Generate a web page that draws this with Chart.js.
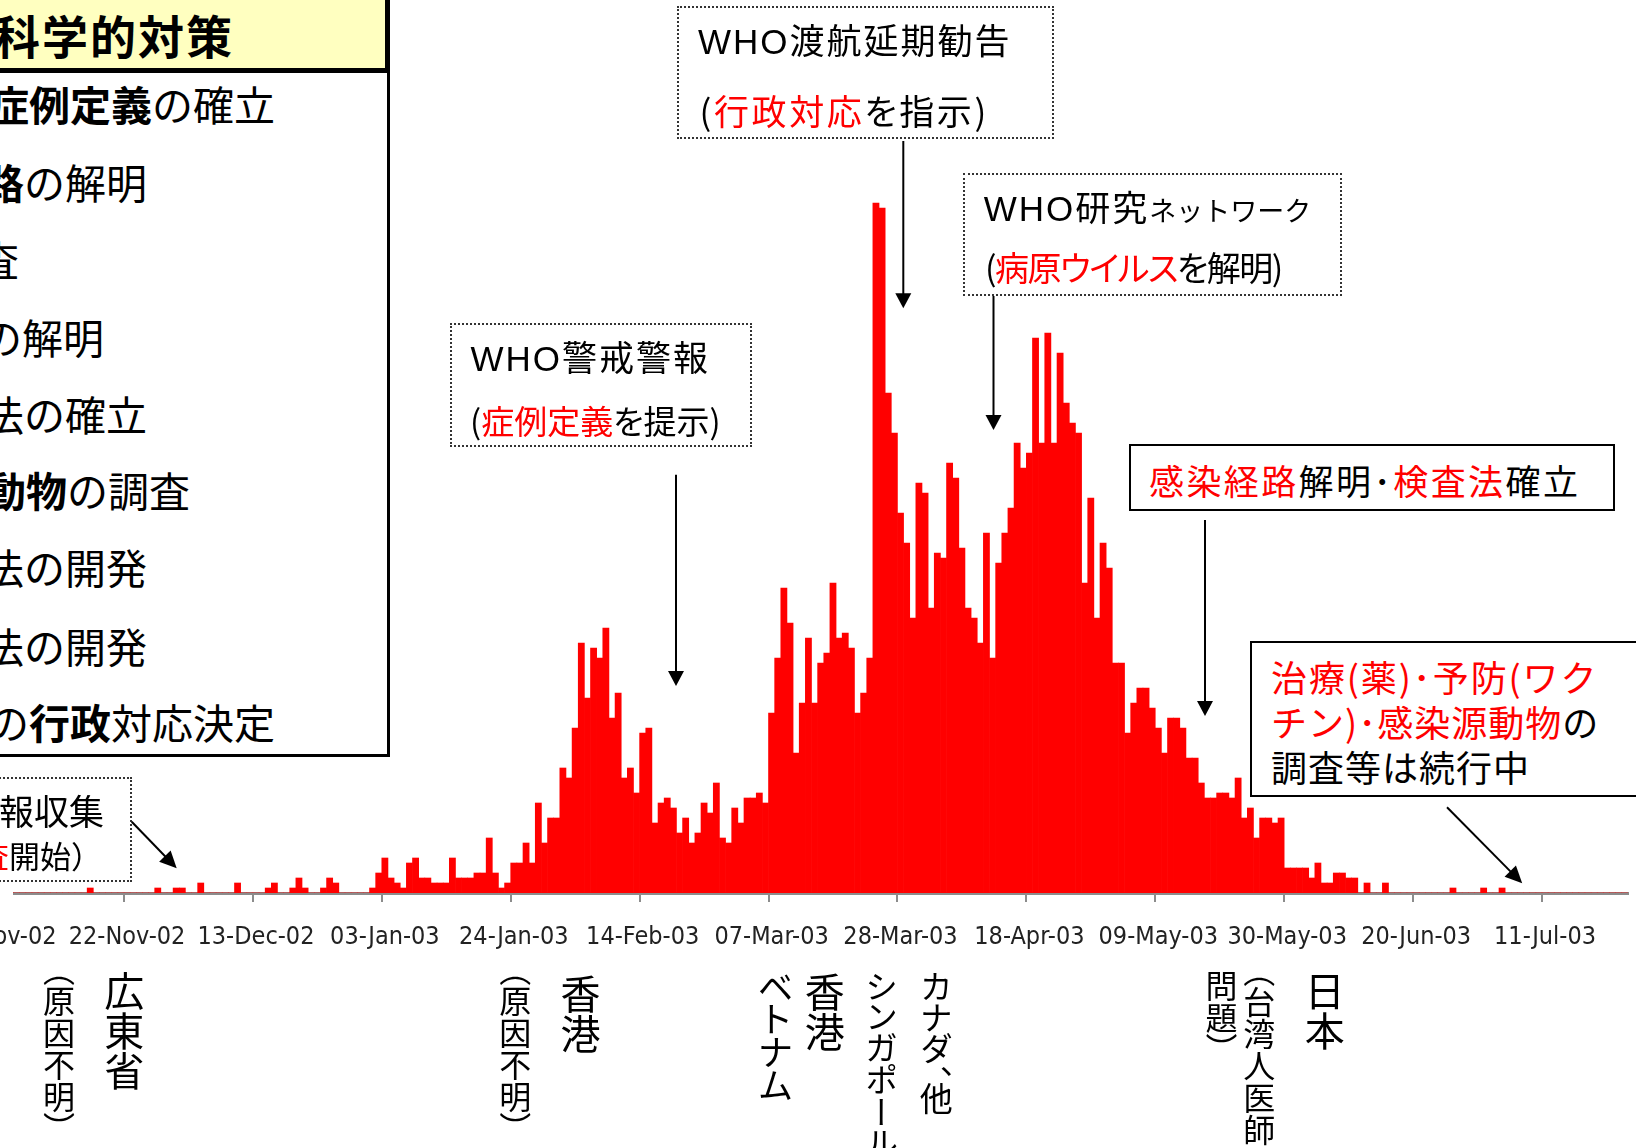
<!DOCTYPE html>
<html>
<head>
<meta charset="utf-8">
<script src="https://cdn.jsdelivr.net/npm/chart.js@4.4.1/dist/chart.umd.min.js"></script>
<style>
  html, body { margin:0; padding:0; background:#fff; overflow:hidden; }
  #wrap { position:relative; width:1636px; height:1148px; overflow:hidden; background:#fff; }
  #c { position:absolute; left:-100px; top:0; }
  .t { position:absolute; white-space:nowrap; line-height:1; font-family:'Noto Sans CJK JP', sans-serif; color:#000; }
  .r { color:#FF0000; }
  .lat { font-family:'Liberation Sans', Arial, sans-serif; }
  .box { position:absolute; box-sizing:border-box; }
  .dot { border:2px dotted #333; }
  .sol { border:2px solid #000; background:#fff; }
  .v { position:absolute; writing-mode:vertical-rl; white-space:nowrap; line-height:1; font-family:'Noto Sans CJK JP', sans-serif; color:#000; }
  .vp { font-feature-settings:"vpal" 1; }
  .pa { font-feature-settings:"palt" 1; }
</style>
</head>
<body>
<div id="wrap">
  <canvas id="c" width="1816" height="1148"></canvas>
  <div class="box" style="left:0;top:884px;width:13px;height:14px;background:#fff"></div>

  <!-- left panel -->
  <div class="box" style="left:-20px;top:-20px;width:410px;height:93px;background:#FFFFC0;border-right:5px solid #000;border-bottom:5px solid #000"></div>
  <div class="box" style="left:-20px;top:73px;width:410px;height:684px;background:#fff;border-right:3px solid #000;border-bottom:3px solid #000"></div>
  <div class="t" style="font-size:46px;font-weight:700;letter-spacing:2px;right:1402px;top:11.4px">SARSの科学的対策</div>
  <div class="t" style="font-size:41px;right:1361px;top:82.7px"><b>症例定義</b>の確立</div>
  <div class="t" style="font-size:41px;right:1489px;top:161.2px"><b>感染経路</b>の解明</div>
  <div class="t" style="font-size:41px;right:1617px;top:237.7px">疫学調査</div>
  <div class="t" style="font-size:41px;right:1532px;top:315.7px">病原体の解明</div>
  <div class="t" style="font-size:41px;right:1489px;top:392.7px">検査法の確立</div>
  <div class="t" style="font-size:41px;right:1446px;top:468.7px"><b>感染源動物</b>の調査</div>
  <div class="t" style="font-size:41px;right:1489px;top:546.2px">治療法の開発</div>
  <div class="t" style="font-size:41px;right:1489px;top:624.7px">予防法の開発</div>
  <div class="t" style="font-size:41px;right:1361px;top:700.6px">各国の<b>行政</b>対応決定</div>

  <!-- WHO info box -->
  <div class="box dot" style="left:-20px;top:777px;width:152px;height:105px"></div>
  <div class="t" style="font-size:35px;right:1532px;top:791.5px"><span class="lat">WHO</span>情報収集</div>
  <div class="t" style="font-size:31px;right:1534px;top:838.8px">（<span class="r">疫学調査</span>開始）</div>

  <!-- WHO alert -->
  <div class="box dot" style="left:449.7px;top:323.3px;width:302px;height:123.4px"></div>
  <div class="t pa" style="font-size:35px;letter-spacing:2px;left:470.5px;top:338.2px"><span class="lat">WHO</span>警戒警報</div>
  <div class="t pa" style="font-size:33px;letter-spacing:0px;left:470px;top:403.5px">(<span class="r">症例定義</span>を提示)</div>

  <!-- WHO travel -->
  <div class="box dot" style="left:676.5px;top:6px;width:377.5px;height:133.3px"></div>
  <div class="t pa" style="font-size:35px;letter-spacing:2px;left:698px;top:20.5px"><span class="lat">WHO</span>渡航延期勧告</div>
  <div class="t pa" style="font-size:35px;letter-spacing:2.6px;left:699.5px;top:91.5px">(<span class="r">行政対応</span>を指示)</div>

  <!-- WHO research -->
  <div class="box dot" style="left:962.7px;top:172.7px;width:379px;height:123.3px"></div>
  <div class="t pa" style="font-size:35px;letter-spacing:2px;left:983.7px;top:188px"><span class="lat">WHO</span>研究<span style="font-size:27px;letter-spacing:0;font-feature-settings:normal">ネットワーク</span></div>
  <div class="t pa" style="font-size:34px;letter-spacing:-1.5px;left:985px;top:250px">(<span class="r">病原ウイルス</span>を解明)</div>

  <!-- route box -->
  <div class="box sol" style="left:1129px;top:444px;width:485.5px;height:66.7px"></div>
  <div class="t" style="font-size:35px;letter-spacing:2.4px;left:1149px;top:461.5px"><span class="r">感染経路</span>解明･<span class="r">検査法</span>確立</div>

  <!-- ongoing box -->
  <div class="box sol" style="left:1250.4px;top:641px;width:450px;height:156px"></div>
  <div class="t" style="font-size:36px;letter-spacing:1.9px;left:1271px;top:658px"><span class="r">治療(薬)･予防(ワク</span></div>
  <div class="t" style="font-size:36px;letter-spacing:1px;left:1271px;top:702.5px"><span class="r">チン)･感染源動物</span>の</div>
  <div class="t" style="font-size:36px;letter-spacing:1px;left:1271px;top:747.5px">調査等は続行中</div>

  <!-- vertical labels -->
  <div class="v vp" style="font-size:32px;left:42.9px;top:969px">（原因不明）</div>
  <div class="v" style="font-size:40px;left:104.2px;top:971px">広東省</div>
  <div class="v vp" style="font-size:32px;left:499.2px;top:969px">（原因不明）</div>
  <div class="v" style="font-size:40px;left:560.5px;top:974px">香港</div>
  <div class="v vp" style="font-size:36px;left:757.4px;top:972px">ベトナム</div>
  <div class="v" style="font-size:40px;left:804.8px;top:972px">香港</div>
  <div class="v vp" style="font-size:33px;left:864.5px;top:971px">シンガポール</div>
  <div class="v vp" style="font-size:33px;left:919.3px;top:971px">カナダ、他</div>
  <div class="v vp" style="font-size:32px;line-height:37.8px;left:1201.7px;top:970px">（台湾人医師<br>問題）</div>
  <div class="v" style="font-size:40px;left:1304.8px;top:971px">日本</div>

  <svg id="arrows" width="1636" height="1148" style="position:absolute;left:0;top:0;overflow:visible"></svg>
</div>

<script>
// ---- data ----
const startYear = 2002, startMonth = 10, startDay = 1; // 01-Nov-02
const monthNames = ['Jan','Feb','Mar','Apr','May','Jun','Jul','Aug','Sep','Oct','Nov','Dec'];
const tickLabels = ['01-Nov-02','22-Nov-02','13-Dec-02','03-Jan-03','24-Jan-03','14-Feb-03','07-Mar-03','28-Mar-03','18-Apr-03','09-May-03','30-May-03','20-Jun-03','11-Jul-03'];

// daily cases, 01-Nov-02 .. 24-Jul-03
const casesNovDec = [
  0,0,0,0,0,0,0,0,0,0,0,0,0,0,0, 1, 0,0,0,0,0,0,0,0,0,0, 1, 0,0, 1,1, 0,0, 2,
  0,0,0,0,0, 2, 0,0,0,0, 1, 2, 0,0, 1, 3, 1, 0,0, 1, 3, 2, 0,0,0,0,0
];
const casesJanFeb = [
  1,4,7,3,2,1,6,7,3,3,2,2,2,7,3,3,3,4,4,11,4,1,2,6,6,10,6,
  18,10,15,15,25,23,33,50,39,49,47,53,35,40,23,25,20,32,33,14,
  18,19,17,12,15,10,12,18,16,22,11,10,17,14,19,19,20,18,36,47
];
const casesMarApr = [
  61,54,28,38,51,38,46,48,62,51,52,49,36,40,47,138,137,100,92,76,
  70,55,82,80,57,68,67,86,83,69,57,55,50,72,47,66,72,77,90,85,
  88,111,90,112,90,108,98,94,92,62,79,55,70,65
];
const casesMayJul = [
  46,46,32,38,41,41,37,33,28,35,35,33,27,27,22,19,19,20,20,19,23,15,17,11,15,15,14,15,
  5,5,5,5,3,6,2,2,4,4,3,3,
  0,2,0,0,2,0,0,0,0,0,0,0,0,0,0,1,0,0,0,0,1,0,0,1,
  0,0,0,0,0,0,0,0,0,0,0,0,0,0,0,0,0,0,0,0
];
const cases = [].concat(casesNovDec, casesJanFeb, casesMarApr, casesMayJul);

const categories = cases.map((_, i) => {
  const d = new Date(startYear, startMonth, startDay + i);
  return String(d.getDate()).padStart(2,'0') + '-' + monthNames[d.getMonth()] + '-' + String(d.getFullYear()).slice(2);
});
const shown = i => typeof i === 'number' && i < categories.length && tickLabels.includes(categories[i]);

const axisGray = '#8c8c8c';
new Chart(document.getElementById('c'), {
  type: 'bar',
  data: {
    labels: categories,
    datasets: [{ data: cases, backgroundColor: '#FF0000', borderWidth: 0, barPercentage: 1, categoryPercentage: 1 }]
  },
  options: {
    responsive: false, animation: false, devicePixelRatio: 1,
    layout: { padding: { left: 95.1, right: 88.1, top: 193, bottom: 175 } },
    plugins: { legend: { display: false }, tooltip: { enabled: false } },
    scales: {
      x: {
        type: 'category', offset: true, z: 1,
        grid: {
          offset: true, drawOnChartArea: false, drawTicks: true, tickLength: 9, lineWidth: 2,
          color: ctx => shown(ctx.index) ? axisGray : 'rgba(0,0,0,0)',
          tickColor: ctx => shown(ctx.index) ? axisGray : 'rgba(0,0,0,0)'
        },
        border: { display: true, color: axisGray, width: 3 },
        ticks: {
          autoSkip: false, maxRotation: 0, minRotation: 0, padding: 20, color: '#222',
          font: { family: "'Liberation Sans Narrow', 'Arial Narrow', 'DejaVu Sans Condensed', sans-serif", size: 25 },
          callback: (v, i) => shown(i) ? categories[i] : ''
        },
        afterFit: s => { s.height = 80; }
      },
      y: { display: false, min: 0, max: 140 }
    }
  }
});

// ---- annotation arrows ----
const svg = document.getElementById('arrows');
const NS = 'http://www.w3.org/2000/svg';
function arrow(x1, y1, x2, y2, len, hw) {
  const dx = x2 - x1, dy = y2 - y1, L = Math.hypot(dx, dy);
  const ux = dx / L, uy = dy / L;
  const bx = x2 - ux * len, by = y2 - uy * len;
  const ln = document.createElementNS(NS, 'line');
  ln.setAttribute('x1', x1); ln.setAttribute('y1', y1);
  ln.setAttribute('x2', bx + ux * 2); ln.setAttribute('y2', by + uy * 2);
  ln.setAttribute('stroke', '#000'); ln.setAttribute('stroke-width', '2');
  svg.appendChild(ln);
  const p = document.createElementNS(NS, 'polygon');
  p.setAttribute('points', `${x2},${y2} ${bx - uy * hw},${by + ux * hw} ${bx + uy * hw},${by - ux * hw}`);
  p.setAttribute('fill', '#000');
  svg.appendChild(p);
}
arrow(131.7, 821.7, 176.7, 868.3, 17, 8);
arrow(676, 474.7, 676, 686, 15, 8);
arrow(903.3, 141, 903.3, 308.3, 15, 8);
arrow(993.5, 296, 993.5, 430, 15, 8);
arrow(1205, 520, 1205, 716, 15, 8);
arrow(1447, 807.3, 1522.2, 883.3, 17, 8);
</script>
</body>
</html>
